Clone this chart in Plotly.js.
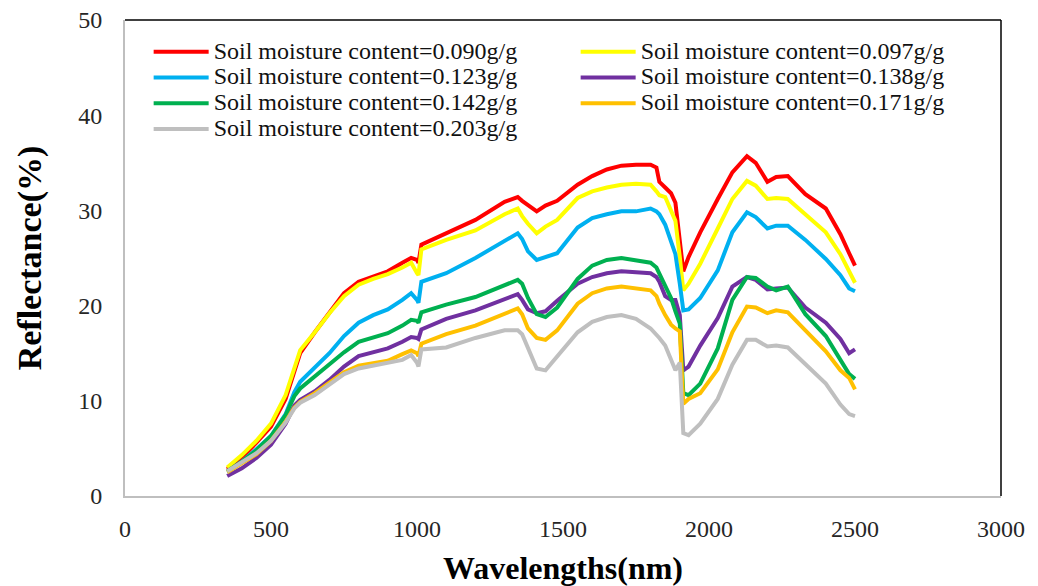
<!DOCTYPE html>
<html>
<head>
<meta charset="utf-8">
<script src="https://cdn.plot.ly/plotly-3.0.1.min.js"></script>
<style>html,body{margin:0;padding:0;background:#fff;}#chart{width:1038px;height:586px;}</style>
</head>
<body>
<div id="chart"></div>
<script>
const wavelengths = [350,400,450,500,550,580,600,650,700,750,800,850,900,950,980,1000,1005,1015,1100,1200,1300,1345,1360,1380,1410,1440,1480,1550,1600,1650,1700,1750,1800,1820,1830,1850,1870,1885,1900,1912,1930,1970,2030,2080,2130,2160,2200,2230,2270,2330,2400,2450,2480,2500];

const seriesNames = [
  "Soil moisture content=0.090g/g",
  "Soil moisture content=0.097g/g",
  "Soil moisture content=0.123g/g",
  "Soil moisture content=0.138g/g",
  "Soil moisture content=0.142g/g",
  "Soil moisture content=0.171g/g",
  "Soil moisture content=0.203g/g"
];

const r090 = [2.8,4.0,5.6,7.3,10.2,13.0,15.0,17.2,19.3,21.3,22.5,23.1,23.6,24.5,25.0,24.8,24.5,26.4,27.6,29.0,30.9,31.4,31.0,30.6,29.9,30.5,31.0,32.7,33.6,34.3,34.7,34.8,34.8,34.5,33.0,32.4,31.8,30.8,27.0,23.6,25.1,27.7,31.2,34.0,35.7,35.0,33.0,33.5,33.6,31.7,30.2,27.5,25.5,24.2];
const r097 = [3.0,4.3,5.8,7.6,10.6,13.6,15.3,17.2,19.2,21.0,22.2,22.8,23.3,24.0,24.5,23.4,23.2,25.9,26.9,27.9,29.6,30.2,29.4,28.6,27.6,28.3,29.0,31.3,32.0,32.4,32.7,32.8,32.7,32.0,31.6,31.4,30.0,28.9,25.1,21.6,22.3,24.4,28.1,31.2,33.1,32.6,31.2,31.3,31.2,29.6,27.7,25.4,23.5,22.4];
const r123 = [2.5,3.6,4.9,6.3,8.6,10.9,12.0,13.5,15.0,16.8,18.2,19.0,19.6,20.6,21.3,20.6,20.3,22.5,23.4,25.0,26.8,27.6,27.0,25.7,24.8,25.1,25.5,28.2,29.2,29.6,29.9,29.9,30.2,29.9,29.6,28.5,26.8,25.4,22.3,19.5,19.6,20.8,23.7,27.7,29.8,29.3,28.1,28.4,28.4,26.9,24.9,23.2,21.8,21.5];
const r138 = [2.1,2.9,4.0,5.4,7.6,9.5,10.1,11.0,12.2,13.6,14.7,15.1,15.5,16.2,16.7,16.6,16.5,17.5,18.6,19.5,20.7,21.2,20.6,19.6,19.2,19.4,20.5,22.3,23.0,23.4,23.6,23.5,23.4,23.0,22.5,21.0,20.6,20.6,19.0,13.2,13.6,15.8,18.7,22.0,23.0,22.7,21.7,21.8,21.9,19.8,18.2,16.5,15.0,15.4];
const r142 = [2.6,3.6,4.8,6.3,8.5,10.5,11.3,12.6,13.8,15.1,16.2,16.6,17.1,17.9,18.5,18.4,18.2,19.3,20.1,20.9,22.2,22.7,22.3,20.8,19.1,18.8,19.8,22.8,24.2,24.8,25.0,24.8,24.5,24.0,23.4,22.2,20.8,19.4,18.1,10.8,10.6,11.8,15.5,20.6,23.0,22.9,22.0,21.6,22.0,19.1,16.8,14.3,12.8,12.3];
const r171 = [2.5,3.4,4.4,5.8,7.8,9.3,9.9,10.8,11.9,13.0,13.7,14.0,14.2,14.9,15.3,15.0,14.7,16.0,17.0,17.9,19.2,19.7,19.1,17.6,16.6,16.4,17.4,20.2,21.3,21.8,22.0,21.8,21.6,21.0,20.2,19.0,18.0,17.6,17.3,9.7,10.2,10.8,13.3,17.2,19.9,19.8,19.2,19.5,19.3,17.4,15.2,13.2,12.4,11.2];
const r203 = [2.6,3.5,4.5,5.8,7.7,9.2,9.8,10.6,11.7,12.8,13.4,13.7,13.9,14.3,14.8,14.0,13.6,15.4,15.6,16.6,17.4,17.4,17.0,15.5,13.4,13.2,14.6,17.2,18.3,18.8,19.0,18.6,17.6,17.0,16.6,15.8,14.2,13.2,14.0,6.6,6.4,7.6,10.2,13.8,16.4,16.4,15.7,15.8,15.6,13.9,11.8,9.6,8.6,8.4];

const seriesValues = [r090, r097, r123, r138, r142, r171, r203];
const seriesColors = ["#FF0000","#FFFF00","#00B0F0","#7030A0","#00B050","#FFC000","#BFBFBF"];

const xTicks = [0,500,1000,1500,2000,2500,3000];
const yTicks = [0,10,20,30,40,50];

const traces = seriesNames.map((n, i) => ({
  type: "scatter", mode: "lines",
  name: '<span style="font-size:24px">' + n + '</span>',
  x: wavelengths, y: seriesValues[i],
  line: {color: seriesColors[i], width: 4}
}));

const font = "Liberation Serif, Times New Roman, serif";
const layout = {
  width: 1038, height: 586,
  margin: {l: 125, r: 37, t: 20, b: 90},
  paper_bgcolor: "#fff", plot_bgcolor: "#fff",
  showlegend: true,
  legend: {
    orientation: "h", x: 0.027, y: 0.971, xanchor: "left", yanchor: "top",
    entrywidth: 357, entrywidthmode: "pixels",
    itemwidth: 55, tracegroupgap: 0,
    font: {family: font, size: 17.5, color: "#111"},
    bgcolor: "rgba(0,0,0,0)"
  },
  xaxis: {
    range: [0, 3000], tickvals: xTicks, ticktext: xTicks.map(String),
    showgrid: false, zeroline: false, showline: true, linecolor: "#BFBFBF", linewidth: 2,
    ticks: "", ticklabelstandoff: 10, tickfont: {family: font, size: 24, color: "#262626"},
    title: {text: "<b>Wavelengths(nm)</b>", font: {family: font, size: 32, color: "#000"}, standoff: 17}
  },
  yaxis: {
    range: [0, 50], tickvals: yTicks, ticktext: yTicks.map(String),
    showgrid: false, zeroline: false, showline: true, linecolor: "#BFBFBF", linewidth: 2,
    ticks: "", ticklabelstandoff: 16, tickfont: {family: font, size: 24, color: "#262626"},
    title: {text: "<b>Reflectance(%)</b>", font: {family: font, size: 34, color: "#000"}, standoff: 26}
  },
  shapes: [
    {type: "line", xref: "paper", yref: "paper", x0: 0, x1: 1, y0: 1, y1: 1, line: {color: "#000", width: 1.5}},
    {type: "line", xref: "paper", yref: "paper", x0: 1, x1: 1, y0: 0, y1: 1, line: {color: "#000", width: 1.5}}
  ]
};

Plotly.newPlot("chart", traces, layout, {displayModeBar: false, staticPlot: true});
</script>
</body>
</html>
